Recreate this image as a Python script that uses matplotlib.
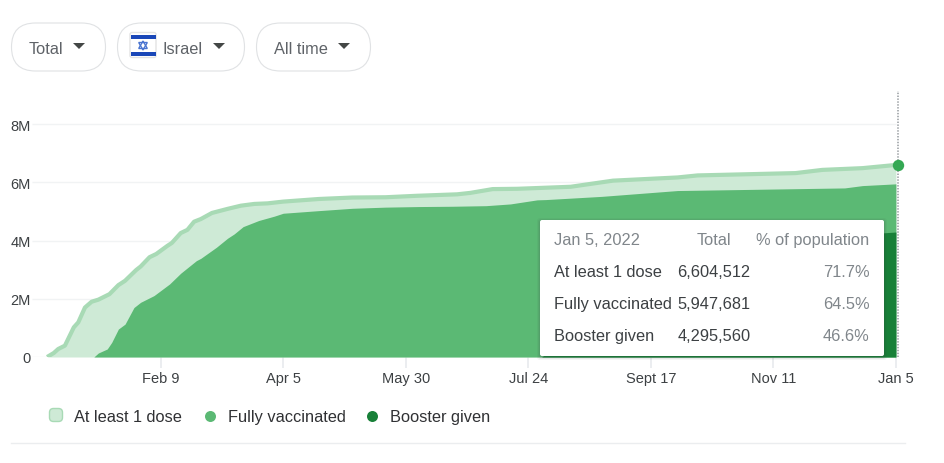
import datetime as dt
import matplotlib
matplotlib.use("Agg")
import matplotlib.pyplot as plt
import matplotlib.dates as mdates
from matplotlib.patches import FancyBboxPatch, Polygon, Rectangle, Circle

plt.rcParams['font.family'] = ['Liberation Sans', 'DejaVu Sans']

dose_dates = ["2020-12-20","2020-12-23","2020-12-25","2020-12-28","2021-01-01","2021-01-03","2021-01-06","2021-01-09",
              "2021-01-12","2021-01-17","2021-01-21","2021-01-24","2021-01-29","2021-01-31","2021-02-04","2021-02-07",
              "2021-02-12","2021-02-14","2021-02-18","2021-02-21","2021-02-24","2021-02-27","2021-03-04","2021-03-11",
              "2021-03-17","2021-03-23","2021-03-29","2021-04-05","2021-04-21","2021-05-06","2021-05-21","2021-06-04",
              "2021-06-22","2021-06-28","2021-07-08","2021-07-19","2021-08-12","2021-08-31","2021-09-29","2021-10-08",
              "2021-11-21","2021-12-03","2021-12-21","2022-01-05"]
dose_values = [0,0.137,0.275,0.39,1.02,1.19,1.70,1.90,1.97,2.16,2.47,2.62,2.99,3.11,3.43,3.54,3.82,3.92,4.26,4.37,
               4.65,4.74,4.95,5.09,5.20,5.26,5.28,5.34,5.43,5.48,5.49,5.54,5.59,5.64,5.77,5.78,5.85,6.06,6.17,6.24,
               6.32,6.43,6.49,6.60]

full_dates = ["2021-01-10","2021-01-12","2021-01-16","2021-01-18","2021-01-21","2021-01-24","2021-01-28","2021-01-31",
              "2021-02-06","2021-02-13","2021-02-18","2021-02-25","2021-02-27","2021-03-06","2021-03-11","2021-03-14",
              "2021-03-18","2021-03-25","2021-04-01","2021-04-05","2021-04-21","2021-05-06","2021-05-21","2021-06-05",
              "2021-06-20","2021-07-05","2021-07-16","2021-07-28","2021-08-01","2021-08-26","2021-09-29","2021-12-13",
              "2021-12-21","2022-01-05"]
full_values = [0,0.137,0.275,0.50,0.96,1.13,1.70,1.88,2.11,2.51,2.88,3.31,3.39,3.77,4.08,4.23,4.48,4.69,4.84,4.94,
               5.03,5.11,5.15,5.17,5.18,5.20,5.26,5.40,5.41,5.52,5.72,5.81,5.89,5.95]

boost_dates = ["2021-07-30","2021-08-15","2021-09-01","2021-09-17","2021-10-01","2021-11-01","2021-12-01","2021-12-25","2022-01-05"]
boost_values = [0,0.9,2.2,3.0,3.4,3.9,4.05,4.24,4.295]

y_ticks = [0,2,4,6,8]
y_labels = ["0","2M","4M","6M","8M"]
x_tick_dates = ["2021-02-09","2021-04-05","2021-05-30","2021-07-24","2021-09-17","2021-11-11","2022-01-05"]
x_tick_labels = ["Feb 9","Apr 5","May 30","Jul 24","Sept 17","Nov 11","Jan 5"]
cursor_date = "2022-01-06"

tooltip_header = ["Jan 5, 2022","Total","% of population"]
tooltip_names = ["At least 1 dose","Fully vaccinated","Booster given"]
tooltip_totals = ["6,604,512","5,947,681","4,295,560"]
tooltip_pcts = ["71.7%","64.5%","46.6%"]
filters = ["Total","Israel","All time"]

def D(seq):
    return [dt.date.fromisoformat(s) for s in seq]

W,H = 945,464
fig = plt.figure(figsize=(W/100,H/100),dpi=100,facecolor='white')

L,R,T,B = 32,900,92,358
ax = fig.add_axes([L/W,1-B/H,(R-L)/W,(B-T)/H])
ax.set_ylim(0,(B-T)/29.1)
f = lambda s: mdates.date2num(dt.date.fromisoformat(s))
ppd = (895.9-160.7)/(f("2022-01-05")-f("2021-02-09"))
x0 = f("2021-02-09")-(160.7-L)/ppd
ax.set_xlim(x0, f("2021-02-09")+(R-160.7)/ppd)
for s in ax.spines.values(): s.set_visible(False)
ax.set_yticks(y_ticks); ax.set_yticklabels(y_labels)
ax.set_xticks(D(x_tick_dates)); ax.set_xticklabels(x_tick_labels)
ax.tick_params(axis='y',length=0,labelsize=10.5,labelcolor='#3c4043',pad=1)
ax.tick_params(axis='x',length=8,width=1.2,color='#e8eaed',labelsize=10.5,labelcolor='#3c4043',pad=2.4)
ax.hlines(y_ticks,x0,f("2022-01-05"),color='#f1f3f4',lw=1,zorder=0)
ax.patch.set_alpha(0)

ax.fill_between(D(dose_dates),dose_values,color='#ceead6',lw=0,zorder=2)
ax.plot(D(dose_dates),dose_values,color='#a8dab5',lw=3,zorder=3,solid_capstyle='butt')
ax.fill_between(D(full_dates),full_values,color='#5bb974',lw=0,zorder=4)
ax.fill_between(D(boost_dates),boost_values,color='#188038',lw=0,zorder=5)
cur = dt.date.fromisoformat(cursor_date)
ax.axvline(cur,color='#a6aaae',lw=1.3,ls=(0,(0.8,0.8)),zorder=6)
ax.plot([cur],[dose_values[-1]],'o',ms=8.2,color='#34a853',mec='none',zorder=7,clip_on=False)

ov = fig.add_axes([0,0,1,1],zorder=10)
ov.set_xlim(0,W); ov.set_ylim(H,0); ov.axis('off'); ov.patch.set_alpha(0)

def pill(x0,x1,y0=24,y1=72):
    r=(y1-y0)/2
    ov.add_patch(FancyBboxPatch((x0+r,y0+r),x1-x0-2*r,0,boxstyle=f"round,pad={r},rounding_size={r}",
                                fc='white',ec='#e0e2e4',lw=0.8))
def caret(cx,cy=46.5):
    ov.add_patch(Polygon([(cx-6,cy-2.5),(cx+6,cy-2.5),(cx,cy+3.5)],closed=True,fc='#444746',ec='none'))
pill(11.5,105.5); pill(117.5,244.5); pill(256.5,370.5)
txt=dict(va='center',ha='left',color='#5f6368',fontsize=11.8)
ov.text(29,49,filters[0],**txt); caret(79)
ov.text(162.5,49,filters[1],**txt); caret(219)
ov.text(274,49,filters[2],**txt); caret(344)
ov.add_patch(FancyBboxPatch((130,33.5),26,25,boxstyle="round,pad=0,rounding_size=2",fc='white',ec='#e3e3e3',lw=1))
ov.add_patch(Rectangle((130.5,36),25,4,fc='#1a47b8',ec='none'))
ov.add_patch(Rectangle((130.5,52.5),25,4,fc='#1a47b8',ec='none'))
ov.add_patch(Polygon([(143,42),(147.3,49.5),(138.7,49.5)],closed=True,fc='none',ec='#4a74d0',lw=1))
ov.add_patch(Polygon([(143,51),(147.3,43.5),(138.7,43.5)],closed=True,fc='none',ec='#4a74d0',lw=1))

for i,a in ((3,0.05),(2,0.07),(1,0.09)):
    ov.add_patch(FancyBboxPatch((540-i,221+1-i),344+2*i,136+2*i,boxstyle="round,pad=0,rounding_size=3",fc='#3c4043',ec='none',alpha=a))
ov.add_patch(FancyBboxPatch((540,221),344,136,boxstyle="round,pad=0,rounding_size=2",fc='white',ec='none'))
hc='#80868b'; bc='#3c4043'; fs=11.8
ov.text(554.5,241,tooltip_header[0],va='center',ha='left',color=hc,fontsize=fs)
ov.text(731.5,241,tooltip_header[1],va='center',ha='right',color=hc,fontsize=fs)
ov.text(869.5,241,tooltip_header[2],va='center',ha='right',color=hc,fontsize=fs)
for y,n,t,p in zip((273,305,337),tooltip_names,tooltip_totals,tooltip_pcts):
    ov.text(554.5,y,n,va='center',ha='left',color=bc,fontsize=fs)
    ov.text(677.5,y,t,va='center',ha='left',color=bc,fontsize=fs)
    ov.text(869.5,y,p,va='center',ha='right',color=hc,fontsize=fs)

ov.add_patch(FancyBboxPatch((49.5,409.5),13,13,boxstyle="round,pad=0,rounding_size=4",fc='#ceead6',ec='#a8dab5',lw=1))
ov.add_patch(Circle((210.5,417.5),5.5,fc='#5bb974',ec='none'))
ov.add_patch(Circle((372.5,417.5),5.5,fc='#188038',ec='none'))
for x,n in zip((74,227.5,390),tooltip_names):
    ov.text(x,418,n,va='center',ha='left',color='#303134',fontsize=11.8)
ov.plot([11,905],[443.5,443.5],color='#ebedef',lw=1)

fig.savefig("out.png",dpi=100,facecolor='white')
